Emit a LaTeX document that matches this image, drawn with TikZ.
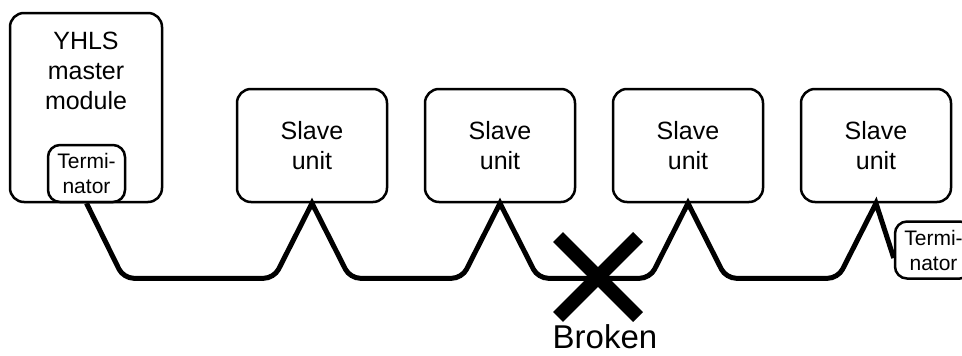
\documentclass[tikz,border=0pt]{standalone}
\usepackage{fontspec}
\setmainfont{Liberation Sans}
\usetikzlibrary{calc}

\begin{document}
\begin{tikzpicture}[x=1pt, y=-1pt,
    unitbox/.style={draw, line width=2.5pt, rounded corners=14pt, align=center,
      font=\fontsize{25}{30}\selectfont, minimum width=150pt,
      minimum height=113pt, inner sep=0pt},
    termbox/.style={draw, line width=2.5pt, rounded corners=12pt, align=center,
      font=\fontsize{21}{25}\selectfont, minimum width=77pt,
      minimum height=57pt, inner sep=0pt},
    cable/.style={line width=5pt, rounded corners=10pt, line join=miter},
    breakmark/.style={line width=14pt}]
          \useasboundingbox (0,0) rectangle (962,356);
          \node[unitbox, minimum width=152pt, minimum height=189pt] (master)
            at (86,107.5) {};
          \node[anchor=north, align=center, inner sep=0pt,
            font=\fontsize{25}{30}\selectfont] (mastertext)
            at ($(master.north)+(0,20)$) {YHLS\\master\\module};
          \node[termbox] (termA) at (86.5,173.5) {Termi-\\nator};
          \foreach \i/\x in {1/312, 2/500, 3/688, 4/876}
            \node[unitbox] (s\i) at (\x,145.5) {Slave\\unit};
          \node[termbox] (termB) at (933.5,250) {Termi-\\nator};
          \draw[cable] (termA.south)
            -- ++(37,75)
            -- ($(s1.south)+(-38,75)$) [sharp corners]
            -- (s1.south) [rounded corners=10pt]
            -- ++(38,75)
            -- ($(s2.south)+(-38,75)$) [sharp corners]
            -- (s2.south) [rounded corners=10pt]
            -- ++(38,75)
            -- ($(s3.south)+(-38,75)$) [sharp corners]
            -- (s3.south) [rounded corners=10pt]
            -- ++(38,75)
            -- ($(s4.south)+(-38,75)$) [sharp corners]
            -- (s4.south)
            -- ($(termB.west)+(0,8)$);
          \coordinate (break) at (598,277);
          \draw[breakmark] ($(break)+(-40,-40)$)
            -- ($(break)+(40,40)$)
            ($(break)+(-40,40)$)
            -- ($(break)+(40,-40)$);
          \node[anchor=base, inner sep=0pt, font=\fontsize{33}{40}\selectfont]
            (brokenlabel) at ($(break)+(7,71)$) {Broken};
        \end{tikzpicture}
\end{document}
